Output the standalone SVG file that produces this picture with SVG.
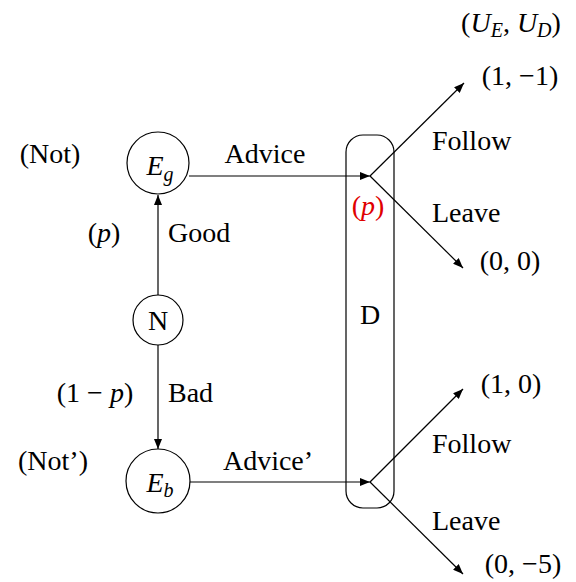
<svg xmlns="http://www.w3.org/2000/svg" width="576" height="582" viewBox="0 0 576 582">
<defs>
<marker id="ah" viewBox="0 0 10 8" refX="10" refY="4" markerWidth="10" markerHeight="8" markerUnits="userSpaceOnUse" orient="auto">
<path d="M0,0 L10,4 L0,8 Z" fill="#000"/>
</marker>
</defs>
<style>
text{font-family:"Liberation Serif","Times New Roman",serif;font-size:28px;fill:#000}
.m{font-style:italic}
.sub{font-size:20px;font-style:italic}
.node{fill:#fff;stroke:#000;stroke-width:1.2}
.edge{fill:none;stroke:#000;stroke-width:1.2;marker-end:url(#ah)}
.red{fill:#e00000}
</style>
<rect width="576" height="582" fill="#fff"/>
<g id="D">
<rect class="node" x="346" y="135" width="48" height="373" rx="17" ry="17"/>
<text x="370" y="324" text-anchor="middle">D</text>
</g>
<g id="connectors">
<line class="edge" x1="158" y1="296" x2="158" y2="195"/>
<line class="edge" x1="158" y1="345" x2="158" y2="449"/>
<line class="edge" x1="189" y1="176" x2="370" y2="176"/>
<line class="edge" x1="189" y1="482" x2="370" y2="482"/>
<line class="edge" x1="370" y1="176" x2="464" y2="83"/>
<line class="edge" x1="370" y1="176" x2="463" y2="268"/>
<line class="edge" x1="370" y1="482" x2="463" y2="389"/>
<line class="edge" x1="370" y1="482" x2="463" y2="574"/>
</g>
<g id="Eg">
<circle class="node" cx="158" cy="163" r="31"/>
<text x="160" y="175" text-anchor="middle"><tspan class="m">E</tspan><tspan class="sub" dy="6">g</tspan></text>
</g>
<g id="N">
<circle class="node" cx="158" cy="320" r="25"/>
<text x="158" y="330" text-anchor="middle">N</text>
</g>
<g id="Eb">
<circle class="node" cx="158" cy="481" r="32"/>
<text x="160" y="492" text-anchor="middle"><tspan class="m">E</tspan><tspan class="sub" dy="5">b</tspan></text>
</g>
<g id="labels">
<text x="511" y="32" text-anchor="middle">(<tspan class="m">U</tspan><tspan class="sub" dy="5">E</tspan><tspan dy="-5">, </tspan><tspan class="m">U</tspan><tspan class="sub" dy="5">D</tspan><tspan dy="-5">)</tspan></text>
<text x="520" y="85" text-anchor="middle">(1, −1)</text>
<text x="50" y="163" text-anchor="middle">(Not)</text>
<text x="265" y="163" text-anchor="middle">Advice</text>
<text x="432" y="150">Follow</text>
<text class="red" x="368" y="215" text-anchor="middle">(<tspan class="m">p</tspan>)</text>
<text x="432" y="222">Leave</text>
<text x="510" y="270" text-anchor="middle">(0, 0)</text>
<text x="104" y="242" text-anchor="middle">(<tspan class="m">p</tspan>)</text>
<text x="168" y="242">Good</text>
<text x="95" y="402" text-anchor="middle">(1 − <tspan class="m">p</tspan>)</text>
<text x="168" y="402">Bad</text>
<text x="511" y="393" text-anchor="middle">(1, 0)</text>
<text x="53" y="470" text-anchor="middle">(Not’)</text>
<text x="268" y="470" text-anchor="middle">Advice’</text>
<text x="432" y="453">Follow</text>
<text x="432" y="530">Leave</text>
<text x="523" y="573" text-anchor="middle">(0, −5)</text>
</g>
</svg>
